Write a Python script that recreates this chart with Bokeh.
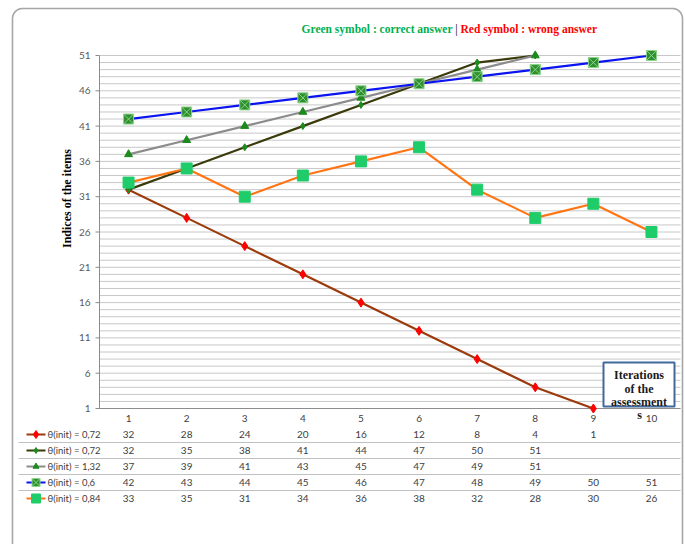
import numpy as np
from bokeh.plotting import figure
from bokeh.models import Range1d
from bokeh.core.properties import value
from bokeh.embed import file_html
from bokeh.resources import INLINE

# ---- data -------------------------------------------------------------
iterations = [1, 2, 3, 4, 5, 6, 7, 8, 9, 10]
series_labels = ["θ(init) = 0,72", "θ(init) = 0,72", "θ(init) = 1,32",
                 "θ(init) = 0,6", "θ(init) = 0,84"]
s1_values = [32, 28, 24, 20, 16, 12, 8, 4, 1]
s2_values = [32, 35, 38, 41, 44, 47, 50, 51]
s3_values = [37, 39, 41, 43, 45, 47, 49, 51]
s4_values = [42, 43, 44, 45, 46, 47, 48, 49, 50, 51]
s5_values = [33, 35, 31, 34, 36, 38, 32, 28, 30, 26]
y_ticks = [1, 6, 11, 16, 21, 26, 31, 36, 41, 46, 51]
y_min, y_max = 1, 51

# ---- page geometry (pixels) -------------------------------------------
W, H = 685, 544
FL, FR, FT, FB = 99, 680, 55, 408      # plot area inside the page
X0, X1 = 0.5, 10.5


def xd(px):
    """page column -> data x"""
    return X0 + (px - FL) * (X1 - X0) / (FR - FL)


def yd(py):
    """page row -> data y"""
    return y_min + (FB - py) * (y_max - y_min) / (FB - FT)


# one canvas-wide frame; the plot area, its axes and the table are drawn inside it
p = figure(width=W, height=H, output_backend="svg", toolbar_location=None,
           x_range=Range1d(xd(0), xd(W)), y_range=Range1d(yd(H), yd(0)),
           x_axis_location=None, y_axis_location=None,
           min_border=0, min_border_left=0, min_border_right=0,
           min_border_top=0, min_border_bottom=0)
p.outline_line_color = None
p.background_fill_color = "white"
p.border_fill_color = "white"
p.xgrid.visible = False
p.ygrid.visible = False

NUM_FONT = value("Lato")
SERIF = value("Liberation Serif")
AXIS_GREY = "#8c8c8c"

# ---- outer rounded frame ------------------------------------------------
r = 10
a1 = np.linspace(np.pi, np.pi / 2, 10)
a2 = np.linspace(np.pi / 2, 0, 10)
bx = [12] + list(12 + r + r * np.cos(a1)) + list(682 - r + r * np.cos(a2)) + [682]
by = [560] + list(8 + r - r * np.sin(a1)) + list(8 + r - r * np.sin(a2)) + [560]
p.line([xd(v) for v in bx], [yd(v) for v in by], line_color="#a6a6a6", line_width=1.6)

# ---- plot area: grid, axis lines, ticks, tick labels --------------------
grid_vals = list(range(y_min, y_max + 1))
p.segment(x0=[X0] * len(grid_vals), x1=[X1] * len(grid_vals), y0=grid_vals, y1=grid_vals,
          line_color="#c8c8c8", line_width=1)
p.segment(x0=[X0], x1=[X0], y0=[y_min], y1=[y_max], line_color=AXIS_GREY, line_width=1)
p.segment(x0=[X0], x1=[X1], y0=[y_min], y1=[y_min], line_color=AXIS_GREY, line_width=1)
p.segment(x0=[xd(FL - 4)] * len(y_ticks), x1=[X0] * len(y_ticks), y0=y_ticks, y1=y_ticks,
          line_color=AXIS_GREY, line_width=1)
p.text(x=[xd(90)] * len(y_ticks), y=y_ticks, text=[str(t) for t in y_ticks],
       text_align="right", text_baseline="middle", text_font=NUM_FONT,
       text_font_size="10px", text_color="#595959")

# ---- series -----------------------------------------------------------
styles = [
    dict(line="#9c3a0c", marker="diamond", fill="#ff0000", mline="#ff0000", size=9, ksize=8),
    dict(line="#3a3a0a", marker="diamond", fill="#1d8a1d", mline="#1d8a1d", size=7, ksize=6),
    dict(line="#8c8c8c", marker="triangle", fill="#1d8a1d", mline="#1d8a1d", size=8, ksize=6),
    dict(line="#0a14f0", marker="square_x", fill="#2f8f2f", mline="#8ad48a", size=10, ksize=8),
    dict(line="#ff7514", marker="square", fill="#1fcc6a", mline="#1fcc6a", size=11, ksize=9),
]
all_values = [s1_values, s2_values, s3_values, s4_values, s5_values]

for vals, st in zip(all_values, styles):
    xs = iterations[:len(vals)]
    p.line(xs, vals, line_color=st["line"], line_width=2.2)
    p.scatter(xs, vals, marker=st["marker"], size=st["size"],
              fill_color=st["fill"], line_color=st["mline"], line_width=1)

# ---- data table under the plot area ------------------------------------
cat_row = 418
row_y = [434, 450, 466, 482, 498]
p.text(x=iterations, y=[yd(cat_row)] * len(iterations), text=[str(i) for i in iterations],
       text_align="center", text_baseline="middle", text_font=NUM_FONT,
       text_font_size="10px", text_color="#404040")

tx, ty, tt = [], [], []
for vals, ry in zip(all_values, row_y):
    for it, v in zip(iterations, vals):
        tx.append(it)
        ty.append(yd(ry))
        tt.append(str(v))
p.text(x=tx, y=ty, text=tt, text_align="center", text_baseline="middle",
       text_font=NUM_FONT, text_font_size="10px", text_color="#404040")

sep_rows = [442, 458, 474, 490]
p.segment(x0=[xd(18)] * 4, x1=[xd(FR)] * 4, y0=[yd(s) for s in sep_rows],
          y1=[yd(s) for s in sep_rows], line_color="#c0c0c0", line_width=1)

# legend keys at the start of each table row
for st, lab, ry in zip(styles, series_labels, row_y):
    p.line([xd(26), xd(45)], [yd(ry), yd(ry)], line_color=st["line"], line_width=2.2)
    p.scatter([xd(35.5)], [yd(ry)], marker=st["marker"], size=st["ksize"],
              fill_color=st["fill"], line_color=st["mline"], line_width=1)
    p.text(x=[xd(47)], y=[yd(ry)], text=[lab], text_align="left", text_baseline="middle",
           text_font=NUM_FONT, text_font_size="9.5px", text_color="#404040")

# ---- heading and axis title -------------------------------------------
p.text(x=[xd(452)], y=[yd(28)], text=["Green symbol : correct answer"],
       text_align="right", text_baseline="middle", text_font=SERIF,
       text_font_style="bold", text_font_size="11.5px", text_color="#00b050")
p.text(x=[xd(456)], y=[yd(28)], text=["|"], text_align="center",
       text_baseline="middle", text_font=SERIF, text_font_size="12px",
       text_color="#000000")
p.text(x=[xd(460)], y=[yd(28)], text=["Red symbol : wrong answer"],
       text_align="left", text_baseline="middle", text_font=SERIF,
       text_font_style="bold", text_font_size="11.5px", text_color="#ff0000")
p.text(x=[xd(66)], y=[yd(198)], text=["Indices of the items"], angle=np.pi / 2,
       text_align="center", text_baseline="middle", text_font=SERIF,
       text_font_style="bold", text_font_size="12px", text_color="#000000")

# ---- "Iterations of the assessment" note box ---------------------------
p.quad(left=[xd(603)], right=[xd(674)], top=[yd(362)], bottom=[yd(406)],
       fill_color="white", fill_alpha=1, line_color="#41699c", line_width=2)
note_lines = ["Iterations", "of the", "assessment", "s"]
note_rows = [374, 388, 401, 414]
note_cols = [638.5, 638.5, 638.5, 639]
p.text(x=[xd(c) for c in note_cols], y=[yd(r_) for r_ in note_rows], text=note_lines,
       text_align="center", text_baseline="middle", text_font=SERIF,
       text_font_style="bold", text_font_size="12px", text_color="#1a1a1a")

open("out.html", "w").write(file_html(p, INLINE))
